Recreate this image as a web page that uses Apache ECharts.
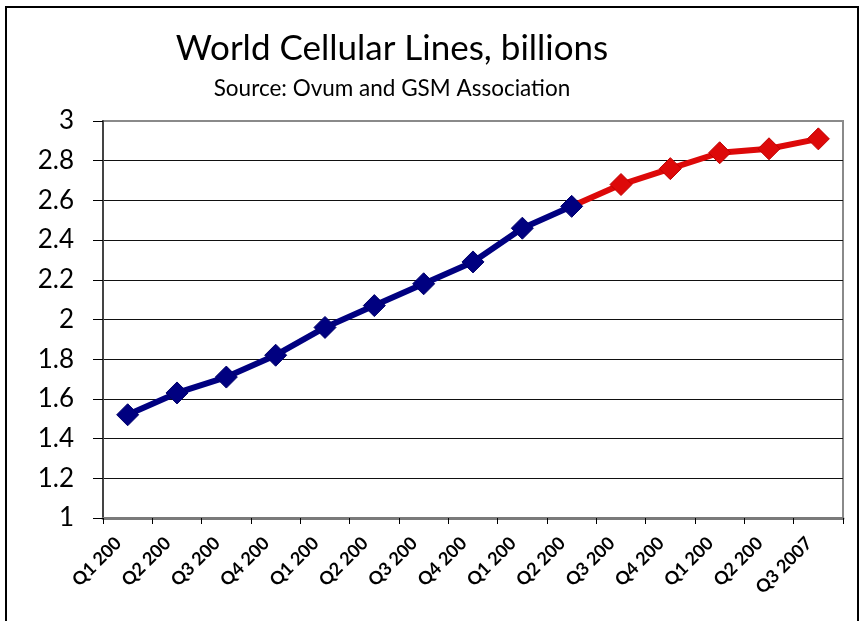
<!DOCTYPE html>
<html>
<head>
<meta charset="utf-8">
<script src="https://cdn.jsdelivr.net/npm/echarts@6/dist/echarts.min.js"></script>
<style>
  html, body { margin: 0; padding: 0; background: #fff; }
  #chart { width: 862px; height: 621px; }
</style>
</head>
<body>
<div id="chart"></div>
<script>
// Quarterly periods, Q1 2004 through Q3 2007
const quarters = [
  'Q1 2004', 'Q2 2004', 'Q3 2004', 'Q4 2004',
  'Q1 2005', 'Q2 2005', 'Q3 2005', 'Q4 2005',
  'Q1 2006', 'Q2 2006', 'Q3 2006', 'Q4 2006',
  'Q1 2007', 'Q2 2007', 'Q3 2007'
];
// Lines in billions: reported (blue) and later quarters (red)
const reported = [1.52, 1.63, 1.71, 1.82, 1.96, 2.07, 2.18, 2.29, 2.46, 2.57];
const later = [2.68, 2.76, 2.84, 2.86, 2.91];
const yTicks = { min: 1, max: 3, step: 0.2 };

const FONT = 'Lato, "Open Sans", sans-serif';
const BLUE = '#000080';
const RED = '#dd0909';

const n = quarters.length;
const blueData = quarters.map((q, i) => (i < reported.length ? reported[i] : null));
const redData = quarters.map((q, i) => {
  if (i === reported.length - 1) return { value: reported[i], symbol: 'none' };
  if (i >= reported.length) return later[i - reported.length];
  return null;
});

// split lines: black, except the top one which sits on the gray frame
const tickCount = Math.round((yTicks.max - yTicks.min) / yTicks.step) + 1;
const splitColors = Array.from({ length: tickCount }, (_, i) => (i === tickCount - 1 ? '#8a8a8a' : '#111'));

const chart = echarts.init(document.getElementById('chart'), null, { renderer: 'canvas' });
chart.setOption({
  backgroundColor: '#fff',
  animation: false,
  title: [
    {
      text: 'World Cellular Lines, billions',
      left: 387, top: 26, textAlign: 'center',
      textStyle: { fontFamily: FONT, fontSize: 35, fontWeight: 'normal', color: '#000' }
    },
    {
      text: 'Source: Ovum and GSM Association',
      left: 387, top: 72, textAlign: 'center',
      textStyle: { fontFamily: FONT, fontSize: 22.5, fontWeight: 'normal', color: '#000' }
    }
  ],
  graphic: [{
    type: 'rect',
    shape: { x: 6, y: 7, width: 852, height: 640 },
    style: { fill: 'none', stroke: '#000', lineWidth: 2 },
    silent: true
  }],
  grid: {
    left: 103, right: 19, top: 121, bottom: 103,
    show: true, borderColor: '#8a8a8a', borderWidth: 2, backgroundColor: '#fff'
  },
  xAxis: {
    type: 'category',
    data: quarters,
    boundaryGap: true,
    axisLine: { show: true, lineStyle: { color: '#7a7a7a', width: 3 } },
    axisTick: { show: true, length: 6, lineStyle: { color: '#000', width: 1 } },
    axisLabel: {
      rotate: 45, margin: 13, interval: 0,
      fontFamily: FONT, fontSize: 18, fontWeight: 'bold', color: '#000',
      // short labels drop their last digit; trailing blanks pull each back along its slant
      formatter: (v, i) => (i < n - 1 ? v.slice(0, 6) : v) + '\u00a0\u00a0\u00a0'
    },
    splitLine: { show: false }
  },
  yAxis: {
    type: 'value',
    min: yTicks.min, max: yTicks.max, interval: yTicks.step,
    axisLine: { show: true, lineStyle: { color: '#444', width: 2 } },
    axisTick: { show: true, length: 10, lineStyle: { color: '#000', width: 1 } },
    axisLabel: {
      margin: 29, fontFamily: FONT, fontSize: 26, color: '#000',
      formatter: v => String(Math.round(v * 10) / 10)
    },
    splitLine: { show: true, lineStyle: { color: splitColors, width: 1 } }
  },
  series: [
    {
      name: 'later', type: 'line', data: redData, z: 2,
      symbol: 'diamond', symbolSize: 22, showSymbol: true,
      lineStyle: { color: RED, width: 6 },
      itemStyle: { color: RED, borderColor: '#c00000', borderWidth: 1 },
      connectNulls: false
    },
    {
      name: 'reported', type: 'line', data: blueData, z: 3,
      symbol: 'diamond', symbolSize: 22, showSymbol: true,
      lineStyle: { color: BLUE, width: 6 },
      itemStyle: { color: BLUE, borderColor: '#00006a', borderWidth: 1 },
      connectNulls: false
    }
  ]
});
</script>
</body>
</html>
